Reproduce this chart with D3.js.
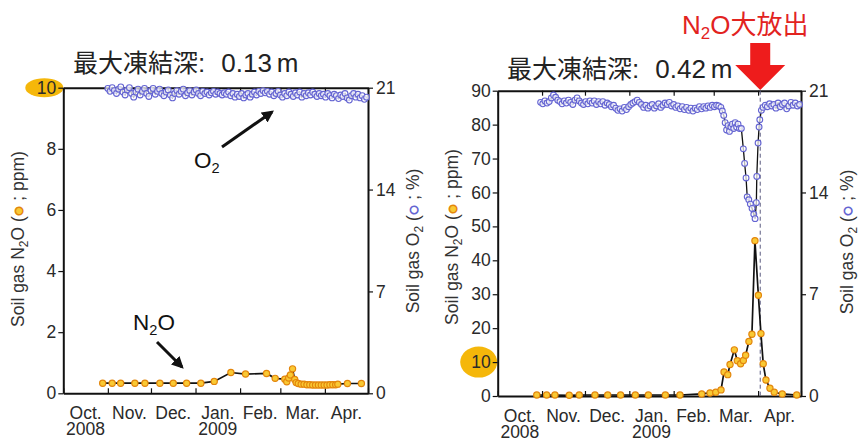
<!DOCTYPE html>
<html>
<head>
<meta charset="utf-8">
<script src="https://cdn.jsdelivr.net/npm/d3@7"></script>
<style>
  body { margin: 0; background: #fff; }
  text { font-family: "Liberation Sans", Arial, sans-serif; }
  .cjk { font-family: "Noto Sans CJK JP", sans-serif; }
</style>
</head>
<body>
<div id="chart"></div>
<script>
// x values are days counted from 1 Oct 2008
const monthLabels = ['Oct.', 'Nov.', 'Dec.', 'Jan.', 'Feb.', 'Mar.', 'Apr.'];
const yearLabels = [['2008', 0], ['2009', 3]];
const leftN2oTicks = [0, 2, 4, 6, 8, 10];
const rightN2oTicks = [0, 10, 20, 30, 40, 50, 60, 70, 80, 90];
const o2Ticks = [0, 7, 14, 21];
const frostDepths = ['0.13', '0.42'];
const releaseDay = 183.5;

// left panel, N2O (ppm)
const leftN2o = [
  [27.4, 0.33], [34, 0.33], [39.9, 0.33], [49.8, 0.33], [56.8, 0.33], [67.2, 0.33],
  [76.5, 0.33], [85.8, 0.33], [95.7, 0.33], [105, 0.39], [116.6, 0.68], [126.8, 0.63],
  [141.4, 0.65], [147.4, 0.49], [154.1, 0.46], [155.5, 0.38], [156.8, 0.5], [158, 0.6],
  [159.5, 0.8], [161, 0.45], [162, 0.35], [163.5, 0.32], [165.5, 0.3], [167.5, 0.3],
  [169.5, 0.28], [171.5, 0.28], [173.5, 0.27], [175.5, 0.27], [177.5, 0.27], [179.5, 0.27],
  [181.5, 0.27], [183.5, 0.27], [185.5, 0.28], [187.5, 0.28], [189.5, 0.28], [191, 0.3],
  [197.7, 0.32], [207.4, 0.32]
];

// left panel, O2 (%)
const leftO2 = [
  [31, 20.95], [32.5, 20.75], [34, 21.0], [35.5, 20.8], [37, 20.6], [38.5, 20.9],
  [40, 21.05], [41.5, 20.7], [43, 20.5], [44.5, 20.85], [46, 21.0], [47.5, 20.6],
  [49, 20.35], [50.5, 20.7], [52, 20.9], [53.5, 20.5], [55, 20.75], [56.5, 20.95],
  [58, 20.6], [59.5, 20.4], [61, 20.8], [62.5, 20.95], [64, 20.55], [65.5, 20.75],
  [67, 20.9], [68.5, 20.6], [70, 20.45], [71.5, 20.7], [73, 20.85], [74.5, 20.5],
  [76, 20.3], [77.5, 20.6], [79, 20.8], [80.5, 20.55], [82, 20.75], [83.5, 20.9],
  [85, 20.45], [86.5, 20.65], [88, 20.8], [89.5, 20.5], [91, 20.7], [92.5, 20.85],
  [94, 20.6], [95.5, 20.45], [97, 20.75], [98.5, 20.6], [100, 20.7], [101.5, 20.5],
  [103, 20.65], [104.5, 20.75], [106, 20.55], [107.5, 20.7], [109, 20.6], [110.5, 20.5],
  [112, 20.65], [113.5, 20.55], [115, 20.7], [116.5, 20.45], [118, 20.6], [119.5, 20.35],
  [121, 20.55], [122.5, 20.4], [124, 20.6], [125.5, 20.3], [127, 20.5], [128.5, 20.6],
  [130, 20.35], [131.5, 20.55], [133, 20.7], [134.5, 20.5], [136, 20.75], [137.5, 20.6],
  [139, 20.8], [140.5, 20.65], [142, 20.75], [143.5, 20.55], [145, 20.7], [146.5, 20.45],
  [148, 20.6], [149.5, 20.75], [151, 20.5], [152.5, 20.35], [154, 20.6], [155.5, 20.45],
  [157, 20.7], [158.5, 20.55], [160, 20.4], [161.5, 20.65], [163, 20.5], [164.5, 20.7],
  [166, 20.35], [167.5, 20.6], [169, 20.45], [170.5, 20.65], [172, 20.5], [173.5, 20.7],
  [175, 20.55], [176.5, 20.4], [178, 20.6], [179.5, 20.45], [181, 20.55], [182.5, 20.35],
  [184, 20.6], [185.5, 20.45], [187, 20.3], [188.5, 20.55], [190, 20.45], [191.5, 20.25],
  [193, 20.5], [194.5, 20.4], [196, 20.6], [197.5, 20.3], [199, 20.15], [200.5, 20.45],
  [202, 20.6], [203.5, 20.35], [205, 20.55], [206.5, 20.3], [208, 20.45], [209.5, 20.2],
  [211, 20.35]
];

// right panel, N2O (ppm)
const rightN2o = [
  [27.3, 0.3], [34.2, 0.3], [40, 0.3], [50, 0.2], [57, 0.3], [68, 0.3], [76.9, 0.3],
  [85.9, 0.3], [96.2, 0.3], [105.3, 0.3], [117.2, 0.3], [127.4, 0.3], [142.6, 0.6],
  [148.4, 0.9], [152.4, 1.1], [156.1, 1.8], [158.2, 7.1], [160.8, 6.3], [162.4, 9.3],
  [165.4, 13.6], [167.5, 10.4], [169.8, 9.5], [171.7, 10.5], [173.3, 12.0], [175.6, 16.1],
  [177.7, 18.2], [179.8, 45.8], [182.2, 29.7], [184, 18.4], [185.6, 9.5], [187.5, 4.7],
  [190.3, 2.3], [193.3, 1.1], [198.9, 0.6], [209, 0.3]
];

// right panel, O2 (%)
const rightO2 = [
  [30, 20.2], [31.5, 20.1], [33, 20.3], [34.5, 20.15], [36, 20.25], [37.5, 20.5],
  [39, 20.7], [40.5, 20.55], [42, 20.35], [43.5, 20.25], [45, 20.1], [46.5, 20.3],
  [48, 20.15], [49.5, 20.35], [51, 20.2], [52.5, 20.05], [54, 20.35], [55.5, 20.5],
  [57, 20.3], [58.5, 20.15], [60, 20.05], [61.5, 20.25], [63, 20.1], [64.5, 20.3],
  [66, 20.15], [67.5, 20.3], [69, 20.05], [70.5, 20.25], [72, 20.1], [73.5, 20.25],
  [75, 20.0], [76.5, 20.15], [78, 20.05], [79.5, 19.9], [81, 20.0], [82.5, 19.8],
  [84, 19.65], [85.5, 19.75], [87, 19.6], [88.5, 19.85], [90, 19.7], [91.5, 19.9],
  [93, 20.05], [94.5, 20.15], [96, 20.25], [97.5, 20.35], [99, 20.2], [100.5, 20.05],
  [102, 19.85], [103.5, 20.0], [105, 19.8], [106.5, 19.95], [108, 20.05], [109.5, 19.8],
  [111, 19.95], [112.5, 20.1], [114, 19.85], [115.5, 20.0], [117, 20.15], [118.5, 20.05],
  [120, 20.2], [121.5, 19.95], [123, 20.05], [124.5, 19.85], [126, 19.95], [127.5, 19.75],
  [129, 19.9], [130.5, 19.7], [132, 19.85], [133.5, 19.65], [135, 19.8], [136.5, 19.6],
  [138, 19.8], [139.5, 19.7], [141, 19.9], [142.5, 19.75], [144, 19.9], [145.5, 19.8],
  [147, 19.95], [148.5, 19.85], [150, 20.0], [151.5, 19.9], [153, 20.0], [154.5, 19.95],
  [156, 19.85], [157, 19.6], [158, 19.3], [159, 18.8], [160, 18.3], [161, 18.6],
  [162, 18.2], [163, 18.5], [164, 18.7], [165, 18.4], [166, 18.8], [167, 18.5],
  [168, 18.7], [169, 18.4], [170.3, 18.4], [171.7, 17.0], [172.6, 16.0], [173.6, 15.0],
  [174.4, 13.7], [175.5, 13.5], [176.6, 13.2], [177.8, 12.9], [179, 12.5], [179.9, 12.2],
  [180.8, 13.3], [181.1, 15.1], [182, 17.4], [182.7, 18.5], [183.2, 19.0], [184.3, 19.65],
  [185.5, 19.85], [187, 20.0], [188.5, 19.9], [190, 20.1], [191.5, 19.95], [193, 20.05],
  [194.5, 19.8], [196, 20.15], [197.5, 19.9], [199, 20.05], [200.5, 20.15], [202, 19.75],
  [203.5, 19.95], [205, 20.2], [206.5, 20.0], [208, 20.15], [209.5, 19.95], [211, 20.05]
];

const width = 859, height = 441;
const start = new Date(Date.UTC(2008, 9, 1));
const end = new Date(Date.UTC(2009, 4, 1));
const toDate = d => new Date(start.getTime() + d * 864e5);
const months = d3.utcMonth.range(start, end);

const svg = d3.select('#chart').append('svg')
  .attr('width', width)
  .attr('height', height);

const defs = svg.append('defs');
defs.append('marker')
  .attr('id', 'head')
  .attr('viewBox', '0 0 10 10')
  .attr('refX', 8).attr('refY', 5)
  .attr('markerWidth', 4).attr('markerHeight', 4)
  .attr('markerUnits', 'strokeWidth')
  .attr('orient', 'auto')
  .append('path')
  .attr('d', 'M0,0 L10,5 L0,10 Z')
  .attr('fill', '#111');

const n2oFill = '#f9c934', n2oStroke = '#e3860c';
const o2Stroke = '#6464d2';

function drawPanel(p) {
  const g = svg.append('g');
  const x = d3.scaleUtc().domain([start, end]).range([p.x0, p.x1]);
  const yN = d3.scaleLinear().domain([0, p.n2oMax]).range([p.y1, p.y0]);
  const yO = d3.scaleLinear().domain([0, 21]).range([p.y1, p.y0]);

  // yellow highlight behind the "10" label
  g.append('ellipse')
    .attr('cx', p.x0 - 19)
    .attr('cy', yN(10))
    .attr('rx', p.hlRx).attr('ry', p.hlRy)
    .attr('fill', '#f5b70a');

  const styleAxis = sel => {
    sel.select('.domain').attr('stroke', '#111').attr('stroke-width', 2);
    sel.selectAll('.tick line').attr('stroke', '#111').attr('stroke-width', 1.2);
    sel.selectAll('.tick text').attr('font-size', 17.5).attr('fill', '#2a2a2a')
      .attr('font-family', '"Liberation Sans", Arial, sans-serif');
  };

  g.append('g')
    .attr('transform', `translate(0,${p.y1})`)
    .call(d3.axisBottom(x).tickValues(months.concat([end])).tickSizeInner(-5).tickSizeOuter(0).tickFormat(''))
    .call(styleAxis);
  g.append('g')
    .attr('transform', `translate(0,${p.y0})`)
    .call(d3.axisTop(x).tickValues(months.concat([end])).tickSizeInner(-5).tickSizeOuter(0).tickFormat(''))
    .call(styleAxis);
  g.append('g')
    .attr('transform', `translate(${p.x0},0)`)
    .call(d3.axisLeft(yN).tickValues(p.n2oTicks).tickSizeInner(5).tickSizeOuter(0).tickPadding(2))
    .call(styleAxis);
  g.append('g')
    .attr('transform', `translate(${p.x1},0)`)
    .call(d3.axisRight(yO).tickValues(o2Ticks).tickSizeInner(5).tickSizeOuter(0).tickPadding(3))
    .call(styleAxis);

  // month and year labels, centred in each month
  months.forEach((m, i) => {
    const next = d3.utcMonth.offset(m, 1);
    g.append('text')
      .attr('x', (x(m) + x(next)) / 2)
      .attr('y', p.y1 + 26)
      .attr('text-anchor', 'middle')
      .attr('font-size', 17.5)
      .attr('fill', '#2a2a2a')
      .text(monthLabels[i]);
  });
  yearLabels.forEach(([label, i]) => {
    const m = months[i];
    const next = d3.utcMonth.offset(m, 1);
    g.append('text')
      .attr('x', (x(m) + x(next)) / 2)
      .attr('y', p.y1 + 42)
      .attr('text-anchor', 'middle')
      .attr('font-size', 17.5)
      .attr('fill', '#2a2a2a')
      .text(label);
  });

  // axis titles
  const lt = g.append('text')
    .attr('transform', `translate(${p.leftTitleX},${p.leftTitleY}) rotate(-90)`)
    .attr('text-anchor', 'middle')
    .attr('font-size', 17.5)
    .attr('fill', '#333');
  lt.append('tspan').text('Soil gas N');
  lt.append('tspan').attr('font-size', 12).attr('dy', 4).text('2');
  lt.append('tspan').attr('dy', -4).text('O (');
  lt.append('tspan').attr('fill', n2oFill).attr('stroke', n2oStroke).attr('stroke-width', 1.4).text('●');
  lt.append('tspan').text(' ; ppm)');

  const rt = g.append('text')
    .attr('transform', `translate(${p.rightTitleX},${p.rightTitleY}) rotate(-90)`)
    .attr('text-anchor', 'middle')
    .attr('font-size', 17.5)
    .attr('fill', '#333');
  rt.append('tspan').text('Soil gas O');
  rt.append('tspan').attr('font-size', 12).attr('dy', 4).text('2');
  rt.append('tspan').attr('dy', -4).text(' (');
  rt.append('tspan').attr('fill', '#fff').attr('stroke', o2Stroke).attr('stroke-width', 1.5).text('●');
  rt.append('tspan').text(' ; %)');

  // dashed marker at the big release
  if (p.release) {
    g.append('line')
      .attr('x1', x(toDate(releaseDay))).attr('x2', x(toDate(releaseDay)))
      .attr('y1', p.y0).attr('y2', p.y1)
      .attr('stroke', '#5a5a80')
      .attr('stroke-width', 1)
      .attr('stroke-dasharray', '4,3');
  }

  // O2 series
  const o2Line = d3.line().x(d => x(toDate(d[0]))).y(d => yO(d[1]));
  g.append('path')
    .datum(p.o2)
    .attr('d', o2Line)
    .attr('fill', 'none')
    .attr('stroke', '#111')
    .attr('stroke-width', 1.3);
  g.append('g').selectAll('circle')
    .data(p.o2)
    .join('circle')
    .attr('cx', d => x(toDate(d[0])))
    .attr('cy', d => yO(d[1]))
    .attr('r', 2.9)
    .attr('fill', '#fff')
    .attr('fill-opacity', 0.7)
    .attr('stroke', o2Stroke)
    .attr('stroke-width', 1.1);

  // N2O series
  const n2oLine = d3.line().x(d => x(toDate(d[0]))).y(d => yN(d[1]));
  g.append('path')
    .datum(p.n2o)
    .attr('d', n2oLine)
    .attr('fill', 'none')
    .attr('stroke', '#111')
    .attr('stroke-width', 1.7);
  g.append('g').selectAll('circle')
    .data(p.n2o)
    .join('circle')
    .attr('cx', d => x(toDate(d[0])))
    .attr('cy', d => yN(d[1]))
    .attr('r', 3.1)
    .attr('fill', n2oFill)
    .attr('stroke', n2oStroke)
    .attr('stroke-width', 1.2);

  // title
  const t = g.append('text')
    .attr('x', p.titleX)
    .attr('y', p.titleY)
    .attr('fill', '#222');
  t.append('tspan').attr('class', 'cjk').attr('font-size', 25).text('最大凍結深');
  t.append('tspan').attr('font-size', 26).attr('dx', 0).text(':');
  t.append('tspan').attr('font-size', 26).attr('dx', 16).text(p.depth);
  t.append('tspan').attr('font-size', 26).attr('dx', 5).text('m');

  return { g, x, yN, yO };
}

const left = drawPanel({
  x0: 63.3, x1: 368, y0: 87.7, y1: 393.3,
  n2oMax: 10, n2oTicks: leftN2oTicks,
  n2o: leftN2o, o2: leftO2,
  hlRx: 19, hlRy: 9.5,
  leftTitleX: 24, leftTitleY: 239,
  rightTitleX: 419, rightTitleY: 241,
  titleX: 73, titleY: 71.5, depth: frostDepths[0],
  release: false
});

const right = drawPanel({
  x0: 497.7, x1: 801, y0: 90.7, y1: 396,
  n2oMax: 90, n2oTicks: rightN2oTicks,
  n2o: rightN2o, o2: rightO2,
  hlRx: 18.5, hlRy: 15.5,
  leftTitleX: 458, leftTitleY: 237,
  rightTitleX: 853, rightTitleY: 242,
  titleX: 507, titleY: 78, depth: frostDepths[1],
  release: true
});

// species labels with a subscript 2
function label(g, xPos, yPos, size, color, parts) {
  const t = g.append('text').attr('x', xPos).attr('y', yPos).attr('font-size', size).attr('fill', color);
  let down = false;
  parts.forEach(s => {
    if (s === '2') {
      t.append('tspan').attr('font-size', size * 0.65).attr('dy', 5).text(s);
      down = true;
    } else {
      t.append('tspan').attr('dy', down ? -5 : 0).text(s);
      down = false;
    }
  });
  return t;
}
label(left.g, 194, 168, 22.5, '#111', ['O', '2']);
label(left.g, 133, 330, 22.5, '#111', ['N', '2', 'O']);

left.g.append('line')
  .attr('x1', 222).attr('y1', 147).attr('x2', 272).attr('y2', 112)
  .attr('stroke', '#111').attr('stroke-width', 3)
  .attr('marker-end', 'url(#head)');
left.g.append('line')
  .attr('x1', 157).attr('y1', 342).attr('x2', 182).attr('y2', 367)
  .attr('stroke', '#111').attr('stroke-width', 3)
  .attr('marker-end', 'url(#head)');

// red arrow and label on right panel
const ax = right.x(toDate(releaseDay));
const tipY = 90;
right.g.append('path')
  .attr('d', `M${ax - 10},43 L${ax + 10},43 L${ax + 10},65 L${ax + 25},65 L${ax},${tipY} L${ax - 25},65 L${ax - 10},65 Z`)
  .attr('fill', '#ee1c1c');

const red = label(right.g, 682, 34, 26, '#e2231f', ['N', '2', 'O']);
red.append('tspan').attr('class', 'cjk').attr('font-size', 26).text('大放出');
</script>
</body>
</html>
